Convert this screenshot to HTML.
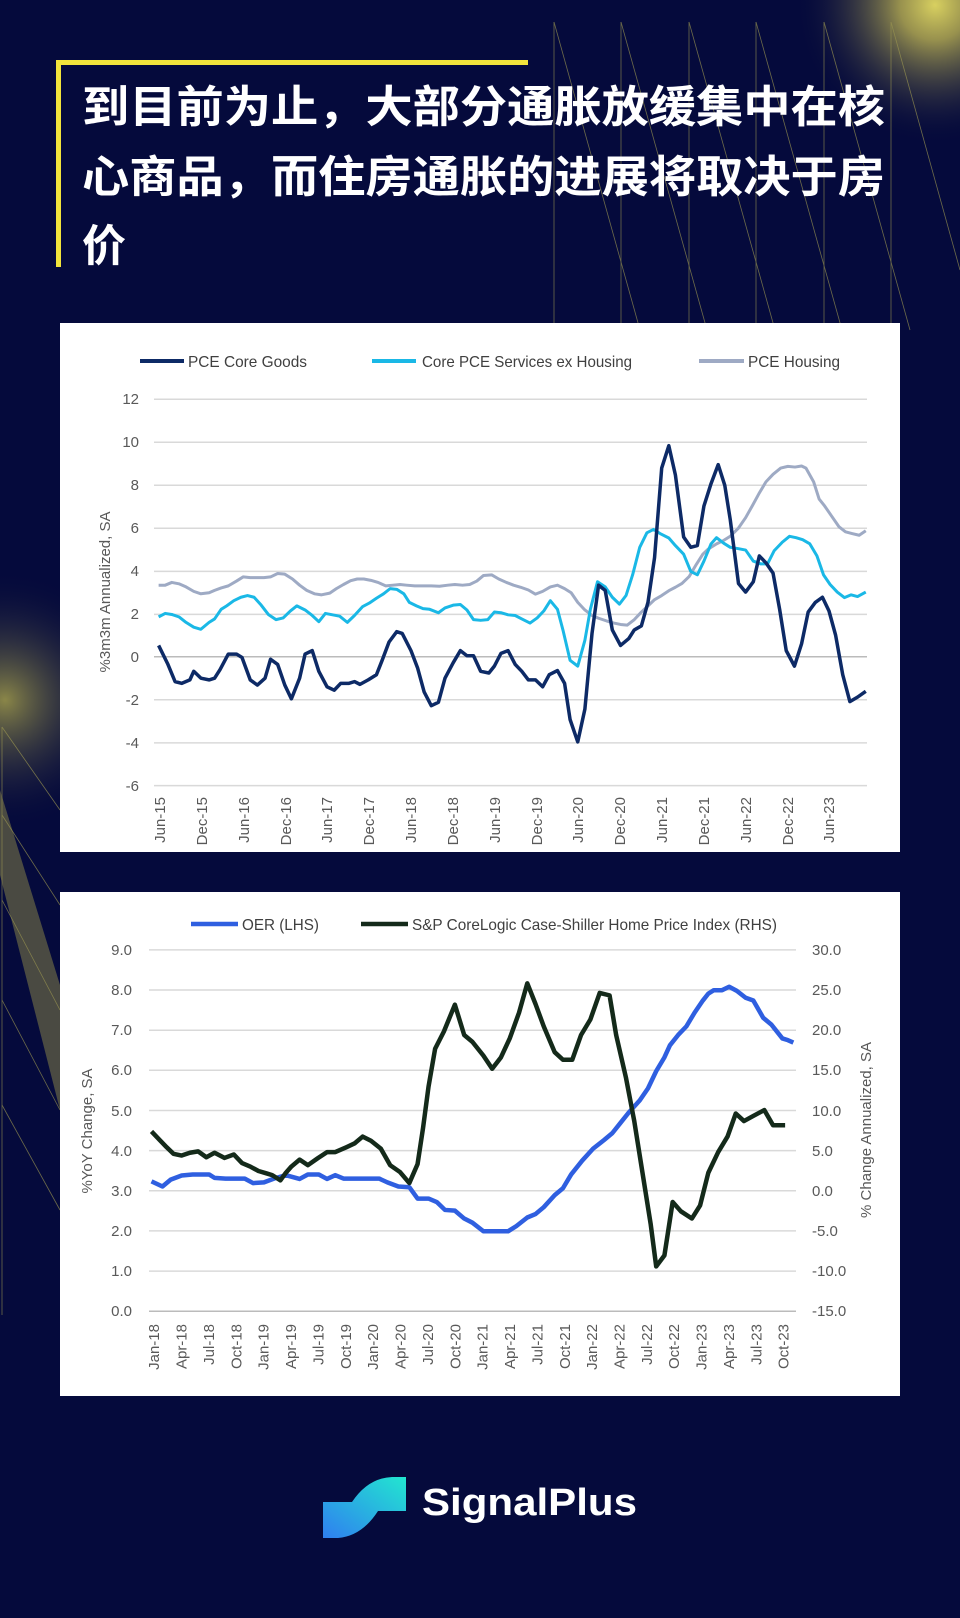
<!DOCTYPE html>
<html><head><meta charset="utf-8"><style>
html,body{margin:0;padding:0;background:#050a3c;}
svg{display:block}
</style></head><body>
<svg width="960" height="1618" viewBox="0 0 960 1618" xmlns="http://www.w3.org/2000/svg">
<defs>
<radialGradient id="g1" cx="935" cy="5" r="140" gradientUnits="userSpaceOnUse">
<stop offset="0" stop-color="#d8d060"/><stop offset="0.25" stop-color="#a8a050" stop-opacity="0.9"/><stop offset="1" stop-color="#050a3c" stop-opacity="0"/></radialGradient>
<radialGradient id="g2" cx="5" cy="700" r="130" gradientUnits="userSpaceOnUse">
<stop offset="0" stop-color="#8a8648"/><stop offset="1" stop-color="#050a3c" stop-opacity="0"/></radialGradient>
<linearGradient id="lg" x1="0" y1="1" x2="1" y2="0"><stop offset="0" stop-color="#2f7ff0"/><stop offset="1" stop-color="#22e6d0"/></linearGradient>
</defs>
<rect width="960" height="1618" fill="#050a3c"/>
<rect width="960" height="1618" fill="url(#g1)"/>
<rect width="960" height="1618" fill="url(#g2)"/>
<polygon points="0,790 60,985 60,1110 0,875" fill="#4a4a42"/>
<g stroke="#9a9550" stroke-width="0.8" fill="none" opacity="0.7">
<line x1="554" y1="22" x2="554" y2="330"/><line x1="621" y1="22" x2="621" y2="330"/><line x1="689" y1="22" x2="689" y2="330"/><line x1="756" y1="22" x2="756" y2="330"/><line x1="824" y1="22" x2="824" y2="330"/><line x1="891" y1="22" x2="891" y2="330"/>
<line x1="554" y1="22" x2="640" y2="330"/><line x1="621" y1="22" x2="707" y2="330"/><line x1="689" y1="22" x2="775" y2="330"/><line x1="756" y1="22" x2="842" y2="330"/><line x1="824" y1="22" x2="910" y2="330"/><line x1="891" y1="22" x2="960" y2="270"/>
<line x1="2" y1="727" x2="2" y2="1315"/><line x1="2" y1="727" x2="60" y2="810"/><line x1="2" y1="815" x2="60" y2="905"/><line x1="2" y1="900" x2="60" y2="1010"/><line x1="2" y1="1000" x2="60" y2="1110"/><line x1="2" y1="1105" x2="60" y2="1210"/>
</g>
<rect x="56" y="60" width="472" height="5" fill="#f2e43c"/>
<rect x="56" y="60" width="5" height="207" fill="#f2e43c"/>
<g fill="#fff" font-family="'Liberation Sans','Noto Sans CJK SC',sans-serif" font-weight="700" font-size="44">
<text x="82" y="122" textLength="803" lengthAdjust="spacingAndGlyphs">到目前为止，大部分通胀放缓集中在核</text>
<text x="82" y="192" textLength="803" lengthAdjust="spacingAndGlyphs">心商品，而住房通胀的进展将取决于房</text>
<text x="82" y="261">价</text>
</g>

<!-- Chart 1 -->
<rect x="60" y="323" width="840" height="529" fill="#fff"/>
<g stroke="#d9d9d9" stroke-width="1.5">
<line x1="154" x2="867" y1="399.2" y2="399.2"/><line x1="154" x2="867" y1="442.2" y2="442.2"/><line x1="154" x2="867" y1="485.3" y2="485.3"/><line x1="154" x2="867" y1="528.3" y2="528.3"/><line x1="154" x2="867" y1="571.4" y2="571.4"/><line x1="154" x2="867" y1="614.4" y2="614.4"/><line x1="154" x2="867" y1="699.8" y2="699.8"/><line x1="154" x2="867" y1="742.9" y2="742.9"/><line x1="154" x2="867" y1="785.6" y2="785.6"/>
<line x1="154" x2="867" y1="656.8" y2="656.8" stroke="#bbb"/>
</g>
<g font-family="'Liberation Sans',sans-serif" font-size="15" fill="#595959" text-anchor="end">
<text x="139" y="404">12</text><text x="139" y="447">10</text><text x="139" y="490">8</text><text x="139" y="533">6</text><text x="139" y="576">4</text><text x="139" y="619">2</text><text x="139" y="662">0</text><text x="139" y="705">-2</text><text x="139" y="748">-4</text><text x="139" y="791">-6</text>
</g>
<text transform="translate(110,592) rotate(-90)" text-anchor="middle" font-family="'Liberation Sans',sans-serif" font-size="15" fill="#595959">%3m3m Annualized, SA</text>
<g font-family="'Liberation Sans',sans-serif" font-size="15" fill="#595959" text-anchor="end">
<text transform="translate(165,797) rotate(-90)">Jun-15</text><text transform="translate(207,797) rotate(-90)">Dec-15</text><text transform="translate(249,797) rotate(-90)">Jun-16</text><text transform="translate(291,797) rotate(-90)">Dec-16</text><text transform="translate(332,797) rotate(-90)">Jun-17</text><text transform="translate(374,797) rotate(-90)">Dec-17</text><text transform="translate(416,797) rotate(-90)">Jun-18</text><text transform="translate(458,797) rotate(-90)">Dec-18</text><text transform="translate(500,797) rotate(-90)">Jun-19</text><text transform="translate(542,797) rotate(-90)">Dec-19</text><text transform="translate(583,797) rotate(-90)">Jun-20</text><text transform="translate(625,797) rotate(-90)">Dec-20</text><text transform="translate(667,797) rotate(-90)">Jun-21</text><text transform="translate(709,797) rotate(-90)">Dec-21</text><text transform="translate(751,797) rotate(-90)">Jun-22</text><text transform="translate(793,797) rotate(-90)">Dec-22</text><text transform="translate(834,797) rotate(-90)">Jun-23</text>
</g>
<g font-family="'Liberation Sans',sans-serif" font-size="16" fill="#404040">
<line x1="140" x2="184" y1="361" y2="361" stroke="#0d2a66" stroke-width="4"/><text x="188" y="367" textLength="119" lengthAdjust="spacingAndGlyphs">PCE Core Goods</text>
<line x1="372" x2="416" y1="361" y2="361" stroke="#1ab8e6" stroke-width="4"/><text x="422" y="367" textLength="210" lengthAdjust="spacingAndGlyphs">Core PCE Services ex Housing</text>
<line x1="699" x2="744" y1="361" y2="361" stroke="#9eaac4" stroke-width="4"/><text x="748" y="367" textLength="92" lengthAdjust="spacingAndGlyphs">PCE Housing</text>
</g>
<g transform="translate(50,320) scale(0.5486,0.3444)" fill="none" stroke-linejoin="round">
<polyline vector-effect="non-scaling-stroke" stroke="#9eaac4" stroke-width="3" points="198,770 210,770 222,762 235,766 248,775 262,788 275,795 290,792 300,785 312,778 325,772 340,758 352,746 365,748 378,748 390,748 402,746 415,736 428,738 442,752 455,770 468,785 482,795 495,798 510,793 522,780 535,768 548,757 560,752 572,752 585,756 598,762 612,772 625,770 638,768 650,770 665,772 680,772 695,772 710,773 725,770 738,768 752,770 765,768 778,758 790,742 805,740 818,752 832,762 845,770 858,776 872,784 885,796 898,788 912,775 925,770 938,780 950,792 962,820 975,842 988,858 1000,866 1015,874 1028,880 1040,884 1052,886 1065,870 1078,848 1090,830 1102,812 1115,800 1128,786 1140,776 1152,765 1165,745 1178,710 1190,680 1200,665 1215,650 1228,640 1240,628 1255,604 1268,574 1280,540 1292,505 1305,470 1318,448 1332,430 1345,425 1358,427 1370,424 1378,430 1392,470 1402,520 1412,540 1425,570 1438,600 1450,615 1462,620 1475,625 1487,612"/>
<polyline vector-effect="non-scaling-stroke" stroke="#1ab8e6" stroke-width="3" points="198,862 210,852 222,855 235,862 248,878 262,892 275,898 290,878 300,868 312,840 322,830 335,815 348,805 360,800 372,805 385,828 398,855 412,870 425,865 438,845 450,830 465,842 478,858 490,876 502,852 515,856 528,860 542,878 555,858 570,832 582,822 595,808 608,795 620,780 632,782 645,795 655,820 668,830 680,838 692,840 708,850 720,836 735,828 748,826 760,842 772,870 785,872 798,870 810,848 822,850 835,856 848,858 860,868 875,880 888,865 900,845 912,815 925,840 935,900 948,988 962,1005 975,930 985,840 998,760 1012,775 1025,805 1038,825 1050,800 1062,740 1075,660 1088,618 1100,608 1112,620 1128,633 1140,655 1155,680 1168,730 1180,740 1192,700 1205,650 1215,632 1228,648 1240,660 1255,664 1268,668 1282,700 1295,708 1308,708 1320,670 1335,645 1348,628 1360,632 1372,638 1385,650 1398,685 1410,740 1422,768 1435,790 1448,806 1460,798 1472,803 1487,790"/>
<polyline vector-effect="non-scaling-stroke" stroke="#0d2a66" stroke-width="3.5" points="198,945 215,1000 228,1050 240,1055 255,1045 262,1020 275,1040 290,1045 300,1040 310,1015 325,970 340,970 350,980 365,1045 378,1060 392,1040 402,985 415,1000 428,1060 440,1100 455,1040 465,970 478,960 490,1020 505,1065 518,1075 530,1055 545,1055 555,1050 565,1058 580,1045 595,1030 605,990 618,935 632,905 642,910 658,960 670,1010 682,1080 695,1120 708,1110 720,1040 735,995 748,960 760,975 772,975 785,1020 800,1025 810,1005 822,968 835,960 848,1000 860,1020 872,1045 885,1045 898,1065 910,1030 925,1018 938,1055 948,1160 962,1225 975,1130 988,910 1000,770 1012,785 1025,900 1040,945 1055,925 1065,900 1078,888 1090,820 1102,690 1115,430 1128,365 1140,450 1155,630 1168,660 1180,655 1192,540 1205,475 1218,420 1230,480 1240,580 1255,765 1268,790 1282,760 1293,685 1305,705 1318,735 1330,840 1342,960 1357,1005 1370,940 1382,848 1395,820 1408,805 1420,845 1432,915 1445,1030 1458,1108 1472,1095 1487,1078"/>
</g>

<!-- Chart 2 -->
<rect x="60" y="892" width="840" height="504" fill="#fff"/>
<g stroke="#d9d9d9" stroke-width="1.5">
<line x1="149" x2="796" y1="949.9" y2="949.9"/><line x1="149" x2="796" y1="990" y2="990"/><line x1="149" x2="796" y1="1030.2" y2="1030.2"/><line x1="149" x2="796" y1="1070.3" y2="1070.3"/><line x1="149" x2="796" y1="1110.5" y2="1110.5"/><line x1="149" x2="796" y1="1150.6" y2="1150.6"/><line x1="149" x2="796" y1="1190.8" y2="1190.8"/><line x1="149" x2="796" y1="1230.9" y2="1230.9"/><line x1="149" x2="796" y1="1271.1" y2="1271.1"/>
<line x1="149" x2="796" y1="1311.2" y2="1311.2" stroke="#bbb"/>
</g>
<g font-family="'Liberation Sans',sans-serif" font-size="15" fill="#595959">
<g text-anchor="end">
<text x="132" y="955">9.0</text><text x="132" y="995">8.0</text><text x="132" y="1035">7.0</text><text x="132" y="1075">6.0</text><text x="132" y="1116">5.0</text><text x="132" y="1156">4.0</text><text x="132" y="1196">3.0</text><text x="132" y="1236">2.0</text><text x="132" y="1276">1.0</text><text x="132" y="1316">0.0</text>
</g>
<text x="812" y="955">30.0</text><text x="812" y="995">25.0</text><text x="812" y="1035">20.0</text><text x="812" y="1075">15.0</text><text x="812" y="1116">10.0</text><text x="812" y="1156">5.0</text><text x="812" y="1196">0.0</text><text x="812" y="1236">-5.0</text><text x="812" y="1276">-10.0</text><text x="812" y="1316">-15.0</text>
<text transform="translate(92,1131) rotate(-90)" text-anchor="middle">%YoY Change, SA</text>
<text transform="translate(871,1130) rotate(-90)" text-anchor="middle">% Change Annualized, SA</text>
<g text-anchor="end">
<text transform="translate(159,1324) rotate(-90)">Jan-18</text><text transform="translate(186.6,1324) rotate(-90)">Apr-18</text><text transform="translate(214,1324) rotate(-90)">Jul-18</text><text transform="translate(241.3,1324) rotate(-90)">Oct-18</text><text transform="translate(268.7,1324) rotate(-90)">Jan-19</text><text transform="translate(296,1324) rotate(-90)">Apr-19</text><text transform="translate(323.4,1324) rotate(-90)">Jul-19</text><text transform="translate(350.8,1324) rotate(-90)">Oct-19</text><text transform="translate(378.2,1324) rotate(-90)">Jan-20</text><text transform="translate(405.5,1324) rotate(-90)">Apr-20</text><text transform="translate(432.9,1324) rotate(-90)">Jul-20</text><text transform="translate(460.3,1324) rotate(-90)">Oct-20</text><text transform="translate(487.6,1324) rotate(-90)">Jan-21</text><text transform="translate(515,1324) rotate(-90)">Apr-21</text><text transform="translate(542.4,1324) rotate(-90)">Jul-21</text><text transform="translate(569.8,1324) rotate(-90)">Oct-21</text><text transform="translate(597.1,1324) rotate(-90)">Jan-22</text><text transform="translate(624.5,1324) rotate(-90)">Apr-22</text><text transform="translate(651.9,1324) rotate(-90)">Jul-22</text><text transform="translate(679.2,1324) rotate(-90)">Oct-22</text><text transform="translate(706.6,1324) rotate(-90)">Jan-23</text><text transform="translate(734,1324) rotate(-90)">Apr-23</text><text transform="translate(761.3,1324) rotate(-90)">Jul-23</text><text transform="translate(788.7,1324) rotate(-90)">Oct-23</text>
</g>
</g>
<g font-family="'Liberation Sans',sans-serif" font-size="16" fill="#404040">
<line x1="191" x2="238" y1="924" y2="924" stroke="#2f5fe0" stroke-width="4.5"/><text x="242" y="930" textLength="77" lengthAdjust="spacingAndGlyphs">OER (LHS)</text>
<line x1="361" x2="408" y1="924" y2="924" stroke="#142a1a" stroke-width="4.5"/><text x="412" y="930" textLength="365" lengthAdjust="spacingAndGlyphs">S&amp;P CoreLogic Case-Shiller Home Price Index (RHS)</text>
</g>
<g transform="translate(50,880) scale(0.5486,0.3444)" fill="none" stroke-linejoin="round">
<polyline vector-effect="non-scaling-stroke" stroke="#2f5fe0" stroke-width="4.5" points="185,875 205,890 220,870 240,858 260,855 290,855 300,865 320,867 355,867 370,880 390,878 410,866 430,857 455,868 470,855 490,855 505,868 520,857 535,867 600,867 615,878 635,890 655,892 670,925 690,925 705,935 720,958 738,960 755,983 770,995 790,1020 835,1020 850,1005 870,980 885,970 900,950 920,915 935,895 950,855 970,815 990,780 1010,755 1025,735 1040,705 1055,675 1075,640 1090,605 1105,555 1120,515 1130,480 1145,450 1160,425 1175,385 1190,350 1200,330 1210,320 1225,320 1238,310 1252,322 1268,342 1282,350 1300,400 1315,420 1335,460 1345,465 1355,472"/>
<polyline vector-effect="non-scaling-stroke" stroke="#142a1a" stroke-width="4.5" points="185,730 200,755 212,775 225,795 240,800 255,792 270,788 285,805 300,792 318,807 335,797 350,822 365,832 380,845 395,852 405,857 420,872 430,850 440,832 455,812 470,828 488,808 505,790 520,790 540,776 555,765 570,745 585,757 603,780 620,828 638,848 655,880 670,825 680,720 690,600 702,490 718,440 738,362 755,450 770,470 790,510 806,548 822,515 838,460 855,385 870,300 885,360 900,425 920,500 935,522 952,522 968,450 985,405 1002,328 1020,335 1032,450 1050,575 1065,700 1080,850 1095,1000 1105,1122 1120,1090 1135,935 1150,962 1170,983 1185,945 1200,850 1218,790 1235,745 1250,678 1265,700 1282,685 1302,668 1318,712 1340,712"/>
</g>

<!-- Logo -->
<path d="M323,1502 L352,1502 Q368,1478 392,1477 L406,1477 L406,1511 L378,1511 Q362,1536 338,1538 L323,1538 Z" fill="url(#lg)"/>
<text x="422" y="1515" font-family="'Liberation Sans',sans-serif" font-weight="700" font-size="38" fill="#fff" textLength="215" lengthAdjust="spacingAndGlyphs">SignalPlus</text>
</svg>
</body></html>
